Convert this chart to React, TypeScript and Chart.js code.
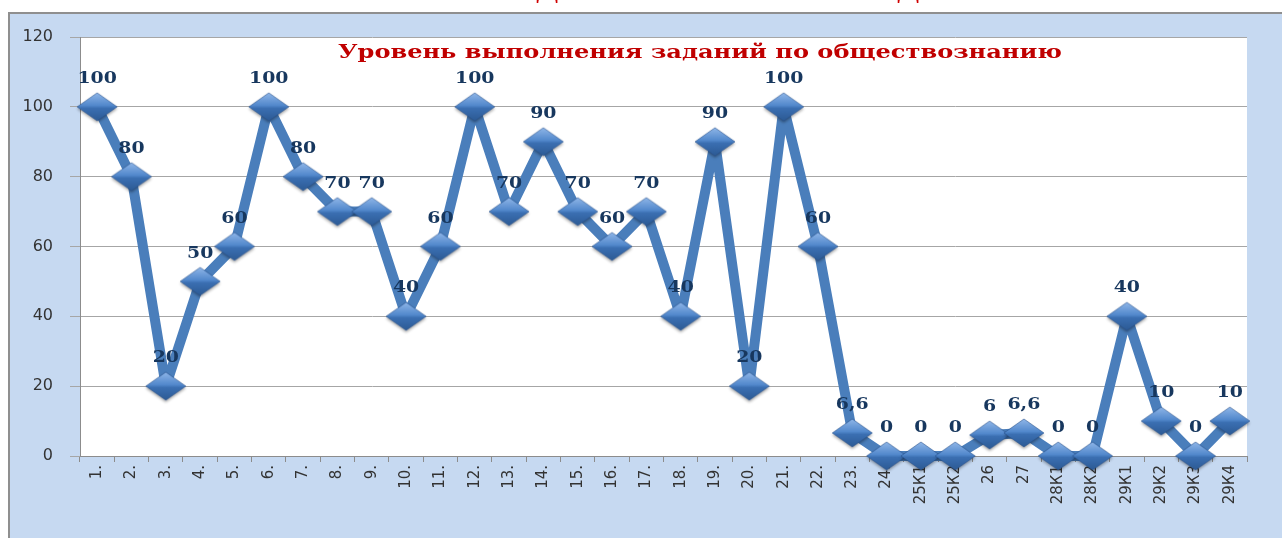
import React, { useEffect, useRef } from 'react';
import { Chart, registerables } from 'chart.js';

Chart.register(...registerables);

const categories = [
  '1.', '2.', '3.', '4.', '5.', '6.', '7.', '8.', '9.', '10.', '11.', '12.',
  '13.', '14.', '15.', '16.', '17.', '18.', '19.', '20.', '21.', '22.', '23.', '24.',
  '25К1', '25К2', '26', '27', '28К1', '28К2', '29К1', '29К2', '29К3', '29К4',
];
const values = [
  100, 80, 20, 50, 60, 100, 80, 70, 70, 40, 60, 100,
  70, 90, 70, 60, 70, 40, 90, 20, 100, 60, 6.6, 0,
  0, 0, 6, 6.6, 0, 0, 40, 10, 0, 10,
];
const yTicks = [0, 20, 40, 60, 80, 100, 120];
const titleText = 'Уровень выполнения заданий по обществознанию';

function makeDiamond(): HTMLCanvasElement {
  const c = document.createElement('canvas');
  const W = 48, H = 38;
  c.width = W; c.height = H;
  const ctx = c.getContext('2d')!;
  const cx = W / 2, cy = H / 2, hw = 20, hh = 14;
  const path = () => {
    ctx.beginPath();
    ctx.moveTo(cx, cy - hh);
    ctx.lineTo(cx + hw, cy);
    ctx.lineTo(cx, cy + hh);
    ctx.lineTo(cx - hw, cy);
    ctx.closePath();
  };
  ctx.save();
  ctx.shadowColor = 'rgba(0,0,0,0.35)';
  ctx.shadowBlur = 3;
  ctx.shadowOffsetY = 2;
  path();
  const g = ctx.createLinearGradient(0, cy - hh, 0, cy + hh);
  g.addColorStop(0, '#8fb6e8');
  g.addColorStop(0.45, '#5288cc');
  g.addColorStop(0.55, '#3b6fb2');
  g.addColorStop(1, '#2c5a94');
  ctx.fillStyle = g;
  ctx.fill();
  ctx.restore();
  ctx.strokeStyle = 'rgba(40,80,140,0.7)';
  ctx.lineWidth = 0.8;
  path();
  ctx.stroke();
  return c;
}

const fmt = (v: number) => String(v).replace('.', ',');

const decorPlugin = {
  id: 'decor',
  beforeDraw(chart: any) {
    const { ctx, chartArea } = chart;
    ctx.save();
    ctx.fillStyle = '#ffffff';
    ctx.fillRect(0, 0, 1282, 538);
    ctx.fillStyle = '#c6d9f1';
    ctx.fillRect(9, 13, 1282 - 9, 538 - 13);
    ctx.strokeStyle = '#8f8f8f';
    ctx.lineWidth = 2;
    ctx.beginPath();
    ctx.moveTo(9, 538);
    ctx.lineTo(9, 13);
    ctx.lineTo(1282, 13);
    ctx.stroke();
    ctx.fillStyle = '#ffffff';
    ctx.fillRect(chartArea.left, chartArea.top, chartArea.right - chartArea.left, chartArea.bottom - chartArea.top);
    ctx.fillStyle = '#d00000';
    ctx.font = 'bold 26px "DejaVu Serif"';
    ctx.textAlign = 'center';
    ctx.textBaseline = 'alphabetic';
    ctx.beginPath();
    ctx.rect(0, 0, 1282, 11);
    ctx.clip();
    ctx.fillText('Д', 547, -1);
    ctx.fillText('Д', 908, -1);
    ctx.restore();
  },
  afterDraw(chart: any) {
    const { ctx } = chart;
    ctx.save();
    ctx.font = 'bold 19px "DejaVu Serif"';
    const w = ctx.measureText(titleText).width;
    const sx = 724 / w;
    ctx.translate(700, 53);
    ctx.scale(sx, 1);
    ctx.fillStyle = '#c00000';
    ctx.textAlign = 'center';
    ctx.textBaseline = 'middle';
    ctx.fillText(titleText, 0, 0);
    ctx.restore();
  },
  afterDatasetsDraw(chart: any) {
    const { ctx } = chart;
    const meta = chart.getDatasetMeta(0);
    ctx.save();
    ctx.font = 'bold 16px "DejaVu Serif"';
    ctx.fillStyle = '#17375e';
    ctx.textAlign = 'center';
    ctx.textBaseline = 'middle';
    meta.data.forEach((pt: any, i: number) => {
      ctx.save();
      ctx.translate(pt.x, pt.y - 28);
      ctx.scale(1.18, 1);
      ctx.fillText(fmt(values[i]), 0, 0);
      ctx.restore();
    });
    ctx.restore();
  },
};

export default function App() {
  const ref = useRef<HTMLCanvasElement | null>(null);
  useEffect(() => {
    if (!ref.current) return;
    const diamond = makeDiamond();
    const chart = new Chart(ref.current, {
      type: 'line',
      data: {
        labels: categories,
        datasets: [
          {
            data: values,
            borderColor: '#4a7ebb',
            borderWidth: 10,
            borderJoinStyle: 'round',
            borderCapStyle: 'round',
            pointStyle: diamond as any,
            pointRadius: 18,
            pointHoverRadius: 18,
            tension: 0,
            clip: false as any,
          },
        ],
      },
      options: {
        responsive: false,
        animation: false,
        layout: { padding: { left: 9, top: 37, right: 35, bottom: 0 } },
        plugins: { legend: { display: false }, tooltip: { enabled: false }, title: { display: false } },
        scales: {
          x: {
            type: 'category',
            offset: true,
            grid: { offset: true, drawOnChartArea: false, drawTicks: true, tickLength: 6, color: '#8c8c8c' },
            border: { color: '#8c8c8c', width: 1 },
            ticks: {
              autoSkip: false,
              maxRotation: 90,
              minRotation: 90,
              padding: 3,
              color: '#333333',
              font: { family: '"DejaVu Sans"', size: 15 },
            },
            afterFit: (s: any) => { s.height = 82; },
          },
          y: {
            min: 0,
            max: 120,
            afterBuildTicks: (s: any) => { s.ticks = yTicks.map((v) => ({ value: v })); },
            grid: { color: '#a6a6a6', tickLength: 10 },
            border: { color: '#8c8c8c', width: 1 },
            ticks: {
              padding: 17,
              color: '#333333',
              font: { family: '"DejaVu Sans"', size: 16 },
            },
            afterFit: (s: any) => { s.width = 71; },
          },
        },
      },
      plugins: [decorPlugin],
    });
    return () => chart.destroy();
  }, []);
  return (
    <div style={{ position: 'absolute', left: 0, top: 0, width: 1282, height: 538 }}>
      <canvas ref={ref} width={1282} height={538} />
    </div>
  );
}
